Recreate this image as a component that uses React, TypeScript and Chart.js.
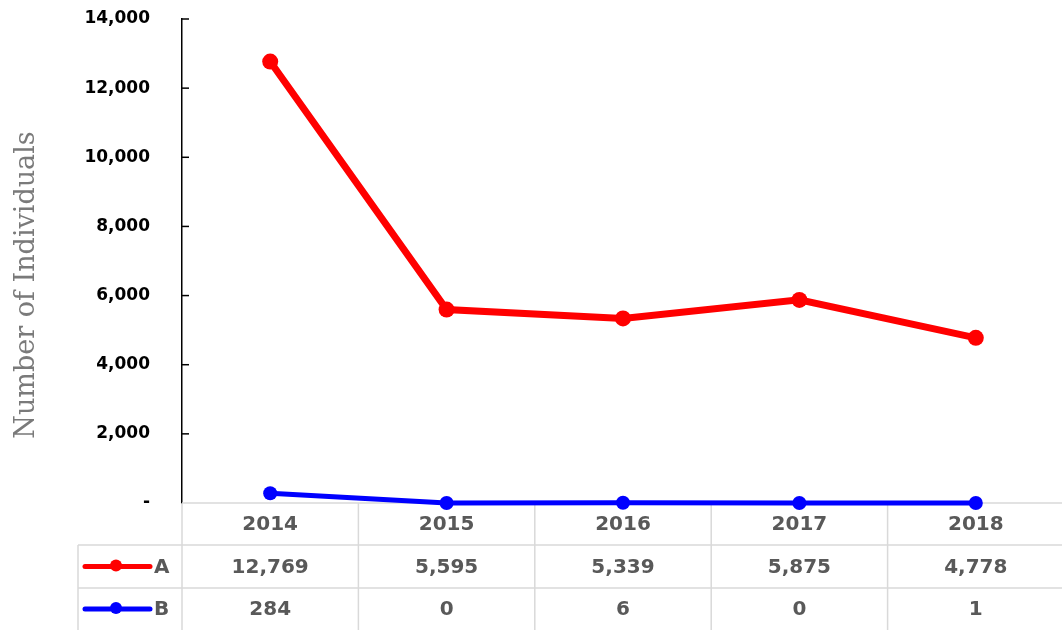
import React, { useEffect, useRef } from "react";
import { Chart, registerables } from "chart.js";

Chart.register(...registerables);

const years = ["2014", "2015", "2016", "2017", "2018"];
const seriesNames = ["A", "B"];
const seriesA = [12769, 5595, 5339, 5875, 4778];
const seriesB = [284, 0, 6, 0, 1];
const seriesColors = ["#FF0000", "#0000FF"];
const yAxisTitle = "Number of Individuals";
const yMin = 0;
const yMax = 14000;
const yStep = 2000;

const fmt = (v: number) => v.toLocaleString("en-US");

const tablePlugin = {
  id: "dataTable",
  beforeDatasetsDraw(chart: any) {
    const ctx = chart.ctx;
    const { left, right, bottom } = chart.chartArea;
    const xs = chart.scales.x;
    const ys = chart.scales.y;
    const H = chart.height;
    const n = years.length;
    const step = (right - left) / n;
    const rowB = [bottom, bottom + 42, bottom + 85, H];
    const tableLeft = 78;

    ctx.save();
    // y tick marks on the inner side
    ctx.strokeStyle = "#000";
    ctx.lineWidth = 1.5;
    ys.ticks.forEach((t: any) => {
      const y = ys.getPixelForValue(t.value);
      if (t.value === 0) return;
      ctx.beginPath();
      ctx.moveTo(left, y);
      ctx.lineTo(left + 7, y);
      ctx.stroke();
    });

    // table grid
    ctx.strokeStyle = "#d9d9d9";
    ctx.lineWidth = 1.5;
    ctx.beginPath();
    ctx.moveTo(left, rowB[0]);
    ctx.lineTo(right, rowB[0]);
    ctx.moveTo(tableLeft, rowB[1]);
    ctx.lineTo(right, rowB[1]);
    ctx.moveTo(tableLeft, rowB[2]);
    ctx.lineTo(right, rowB[2]);
    ctx.moveTo(tableLeft, rowB[1]);
    ctx.lineTo(tableLeft, rowB[3]);
    for (let i = 0; i <= n; i++) {
      const x = left + i * step;
      ctx.moveTo(x, rowB[0]);
      ctx.lineTo(x, rowB[3]);
    }
    ctx.stroke();

    // texts
    ctx.fillStyle = "#595959";
    ctx.font = "bold 20px 'DejaVu Sans'";
    ctx.textAlign = "center";
    ctx.textBaseline = "middle";
    const rows = [seriesA, seriesB];
    years.forEach((yr, i) => {
      const x = xs.getPixelForValue(i);
      ctx.fillText(yr, x, (rowB[0] + rowB[1]) / 2 + 1);
      rows.forEach((r, j) => {
        ctx.fillText(fmt(r[i]), x, (rowB[j + 1] + rowB[j + 2]) / 2 + 1);
      });
    });

    // legend keys
    seriesNames.forEach((name, j) => {
      const y = (rowB[j + 1] + rowB[j + 2]) / 2;
      ctx.strokeStyle = seriesColors[j];
      ctx.lineWidth = 5;
      ctx.lineCap = "round";
      ctx.beginPath();
      ctx.moveTo(85, y);
      ctx.lineTo(150, y);
      ctx.stroke();
      ctx.fillStyle = seriesColors[j];
      ctx.beginPath();
      ctx.arc(116, y - 1, 6, 0, Math.PI * 2);
      ctx.fill();
      ctx.fillStyle = "#595959";
      ctx.textAlign = "left";
      ctx.fillText(name, 154, y + 1);
    });

    // y axis title
    ctx.save();
    ctx.translate(27, 285);
    ctx.rotate(-Math.PI / 2);
    ctx.fillStyle = "#7a7a7a";
    ctx.font = "27px 'DejaVu Serif'";
    ctx.textAlign = "center";
    ctx.textBaseline = "middle";
    ctx.fillText(yAxisTitle, 0, 0);
    ctx.restore();

    ctx.restore();
  },
};

export default function App() {
  const ref = useRef<HTMLCanvasElement>(null);
  useEffect(() => {
    document.body.style.margin = "0";
    document.body.style.overflow = "hidden";
    document.body.style.background = "#fff";
    if (!ref.current) return;
    const chart = new Chart(ref.current, {
      type: "line",
      data: {
        labels: years,
        datasets: [
          {
            label: seriesNames[0],
            data: seriesA,
            borderColor: seriesColors[0],
            backgroundColor: seriesColors[0],
            borderWidth: 7,
            pointRadius: 8,
            pointBorderWidth: 0,
            tension: 0,
            clip: false as any,
          },
          {
            label: seriesNames[1],
            data: seriesB,
            borderColor: seriesColors[1],
            backgroundColor: seriesColors[1],
            borderWidth: 5,
            pointRadius: 7,
            pointBorderWidth: 0,
            tension: 0,
            clip: false as any,
          },
        ],
      },
      options: {
        responsive: false,
        animation: false,
        devicePixelRatio: 1,
        layout: { autoPadding: false, padding: { top: 19, bottom: 127, left: 0, right: 0 } },
        plugins: {
          legend: { display: false },
          tooltip: { enabled: false },
        },
        scales: {
          x: {
            type: "category",
            display: false,
            offset: true,
          },
          y: {
            min: yMin,
            max: yMax,
            afterFit: (s: any) => {
              s.width = 182;
            },
            grid: {
              display: true,
              drawOnChartArea: false,
              drawTicks: true,
              tickLength: 32,
              tickColor: "rgba(0,0,0,0)",
            },
            border: { display: true, color: "#000", width: 1.5 },
            ticks: {
              stepSize: yStep,
              padding: 0,
              color: "#000",
              font: { family: "'DejaVu Sans'", size: 17, weight: "bold" },
              callback: (v: any) => (Number(v) === 0 ? "-" : fmt(Number(v))),
            },
          },
        },
      },
      plugins: [tablePlugin],
    });
    return () => chart.destroy();
  }, []);
  return (
    <div style={{ width: 1062, height: 630, overflow: "hidden", background: "#fff" }}>
      <canvas ref={ref} width={1064} height={630} style={{ display: "block" }} />
    </div>
  );
}
